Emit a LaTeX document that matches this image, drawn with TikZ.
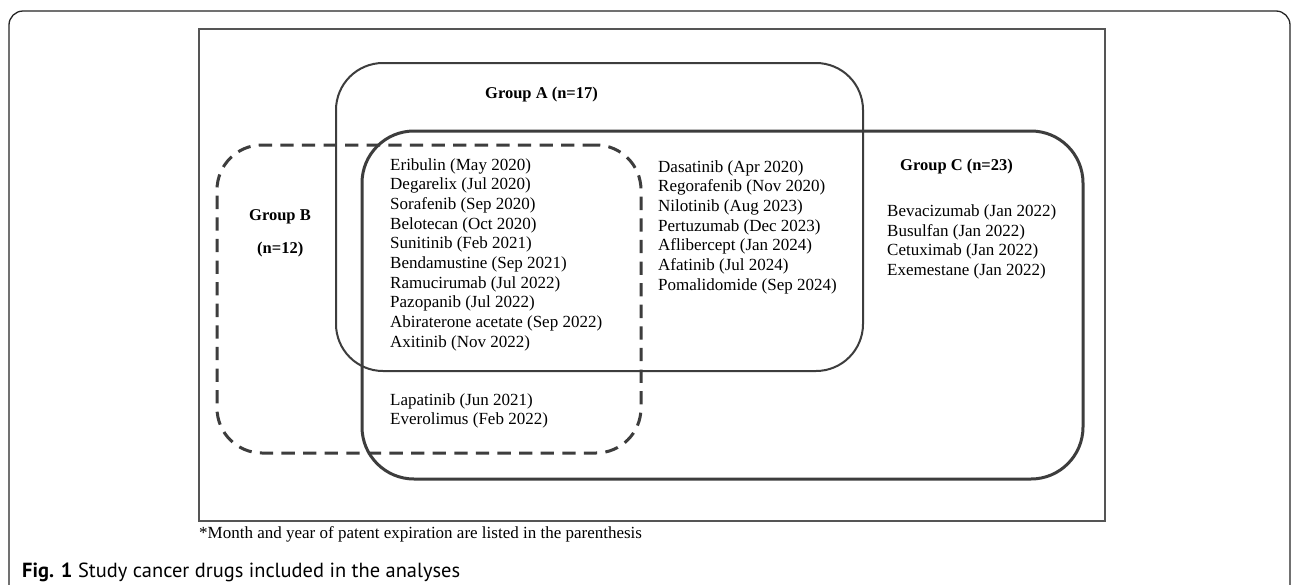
\documentclass[tikz,border=0pt]{standalone}
\usepackage{fontspec}
\setmainfont{Liberation Serif}
\newfontfamily\capfont{PT Sans}
\definecolor{ink}{HTML}{3D3D3D}
\definecolor{framegray}{HTML}{555555}
\begin{document}
\begin{tikzpicture}[x=1pt,y=-1pt,
  outerframe/.style={draw=black!85, line width=1.3pt, rounded corners=14pt},
  plotframe/.style={draw=framegray, line width=1.2pt, rectangle, inner sep=0pt},
  groupbox/.style={draw=ink, rectangle, inner sep=0pt},
  druglist/.style={inner sep=0pt, anchor=north west, align=left, font=\fontsize{17}{19.7}\selectfont},
  grouplabel/.style={inner sep=0pt, anchor=base west, font=\fontsize{16.5}{19}\selectfont\bfseries},
  note/.style={inner sep=0pt, anchor=base west, font=\fontsize{17}{20}\selectfont}
]
\fill[white] (0,0) rectangle (1295,584);
\useasboundingbox (0,0) rectangle (1295,584);

% outer figure frame (bottom edge outside the picture)
\draw[outerframe] (9,590) -- (9,11) -- (1290,11) -- (1290,590);

% plot frame
\node[plotframe, minimum width=906pt, minimum height=492pt] (plot) at (652,275) {};

% groups
\node[groupbox, line width=2pt, rounded corners=47pt, minimum width=527pt, minimum height=308pt] (groupA) at (599.5,217) {};
\node[groupbox, line width=3pt, dash pattern=on 13.3pt off 8.3pt, rounded corners=45pt, minimum width=424pt, minimum height=308pt] (groupB) at (429,299) {};
\node[groupbox, line width=3pt, rounded corners=52pt, minimum width=721pt, minimum height=348pt] (groupC) at (722.5,305) {};

% labels
\node[grouplabel] (labelA) at (485,98.5) {Group A (n=17)};
\node[grouplabel] (labelB) at (249,220.5) {Group B};
\node[grouplabel] (labelBn) at (257,253.5) {(n=12)};
\node[grouplabel] (labelC) at (900,170.5) {Group C (n=23)};

% drug lists
\node[druglist] (listABC) at (390,158) {Eribulin (May 2020)\\Degarelix (Jul 2020)\\Sorafenib (Sep 2020)\\Belotecan (Oct 2020)\\Sunitinib (Feb 2021)\\Bendamustine (Sep 2021)\\Ramucirumab (Jul 2022)\\Pazopanib (Jul 2022)\\Abiraterone acetate (Sep 2022)\\Axitinib (Nov 2022)};
\node[druglist] (listAC) at (658,160) {Dasatinib (Apr 2020)\\Regorafenib (Nov 2020)\\Nilotinib (Aug 2023)\\Pertuzumab (Dec 2023)\\Aflibercept (Jan 2024)\\Afatinib (Jul 2024)\\Pomalidomide (Sep 2024)};
\node[druglist] (listC) at (887,204.5) {Bevacizumab (Jan 2022)\\Busulfan (Jan 2022)\\Cetuximab (Jan 2022)\\Exemestane (Jan 2022)};
\node[druglist] (listBC) at (390,393) {Lapatinib (Jun 2021)\\Everolimus (Feb 2022)};

% footnote and caption
\node[note] (footnote) at (199,538.5) {*Month and year of patent expiration are listed in the parenthesis};
\node[inner sep=0pt, anchor=base west] (caption) at (22,577) {\resizebox{438pt}{!}{\capfont\fontsize{20}{24}\selectfont\textbf{Fig. 1} Study cancer drugs included in the analyses}};
\end{tikzpicture}
\end{document}
